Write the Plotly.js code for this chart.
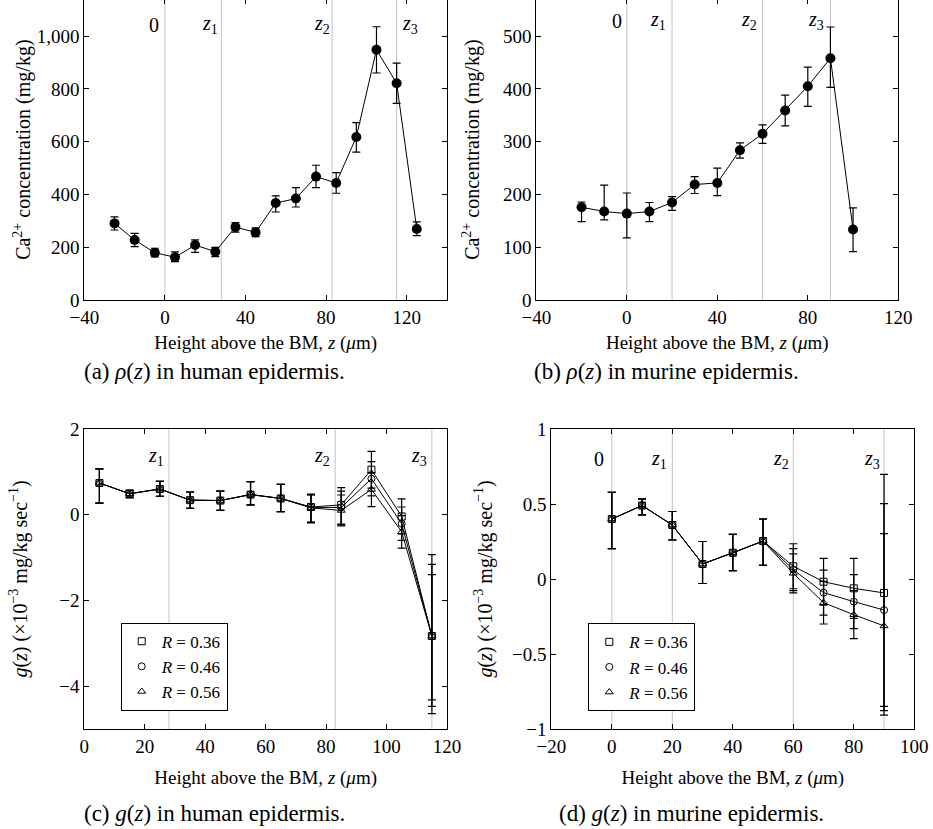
<!DOCTYPE html>
<html><head><meta charset="utf-8">
<script src="https://cdn.plot.ly/plotly-3.0.1.min.js"></script>
<style>
html,body{margin:0;padding:0;overflow:hidden;background:#fff}
#chart{position:absolute;left:0;top:-5px;width:933px;height:834px}
</style>
</head><body><div id="chart"></div>
<script>
// ---- data ----
const humanZ = [-25,-15,-5,5,15,25,35,45,55,65,75,85,95,105,115,125];
const humanRho = [291,228,180,163,209,184,277,257,368,385,468,444,618,948,821,270];
const humanRhoErrPlus = [25,25,17,20,20,16,17,17,27,41,43,39,54,87,76,27];
const humanRhoErrMinus = [25,25,16,17,28,19,19,16,34,32,42,39,57,88,76,25];

const murineZ = [-20,-10,0,10,20,30,40,50,60,70,80,90,100];
const murineRho = [176,168,164,168,185,219,222,284,315,359,405,458,134];
const murineRhoErrPlus = [10,50,39,17,11,15,28,14,17,29,36,59,41];
const murineRhoErrMinus = [27,16,46,19,15,17,24,15,18,29,38,55,42];

const humanMarks = [0,28,83,115];
const murineMarks = [0,20,60,90];
const markLabels = ['0','<i>z</i><sub>1</sub>','<i>z</i><sub>2</sub>','<i>z</i><sub>3</sub>'];

const gHumanZ = [5,15,25,35,45,55,65,75,85,95,105,115];
const gHumanR036 = [0.74,0.49,0.60,0.34,0.33,0.47,0.38,0.18,0.23,1.05,-0.04,-2.83];
const gHumanR046 = [0.74,0.49,0.60,0.34,0.33,0.47,0.38,0.17,0.17,0.84,-0.21,-2.83];
const gHumanR056 = [0.74,0.49,0.60,0.34,0.33,0.47,0.38,0.16,0.10,0.59,-0.40,-2.83];
const gHumanR036ErrPlus = [0.33,0.08,0.18,0.19,0.22,0.30,0.33,0.30,0.40,0.43,0.41,1.90];
const gHumanR036ErrMinus = [0.47,0.09,0.17,0.19,0.23,0.24,0.31,0.35,0.45,0.43,0.41,1.81];
const gHumanR046ErrPlus = [0.33,0.08,0.18,0.19,0.22,0.30,0.33,0.30,0.38,0.40,0.39,1.67];
const gHumanR046ErrMinus = [0.47,0.09,0.17,0.19,0.23,0.24,0.31,0.35,0.40,0.40,0.39,1.64];
const gHumanR056ErrPlus = [0.33,0.08,0.18,0.19,0.22,0.30,0.33,0.30,0.36,0.39,0.38,1.43];
const gHumanR056ErrMinus = [0.47,0.09,0.17,0.19,0.23,0.24,0.31,0.35,0.36,0.40,0.38,1.49];

const gMurineZ = [0,10,20,30,40,50,60,70,80,90];
const gMurineR036 = [0.40,0.49,0.36,0.10,0.175,0.253,0.085,-0.018,-0.062,-0.093];
const gMurineR046 = [0.40,0.49,0.36,0.10,0.175,0.253,0.062,-0.091,-0.151,-0.207];
const gMurineR056 = [0.40,0.49,0.36,0.10,0.175,0.253,0.038,-0.158,-0.238,-0.313];
const gMurineR036ErrPlus = [0.177,0.044,0.09,0.15,0.122,0.147,0.15,0.156,0.20,0.79];
const gMurineR036ErrMinus = [0.198,0.062,0.10,0.13,0.12,0.162,0.15,0.156,0.20,0.756];
const gMurineR046ErrPlus = [0.177,0.044,0.09,0.15,0.122,0.147,0.14,0.15,0.18,0.709];
const gMurineR046ErrMinus = [0.198,0.062,0.10,0.13,0.12,0.162,0.14,0.15,0.18,0.67];
const gMurineR056ErrPlus = [0.177,0.044,0.09,0.15,0.122,0.147,0.13,0.142,0.16,0.615];
const gMurineR056ErrMinus = [0.198,0.062,0.10,0.13,0.12,0.162,0.13,0.142,0.16,0.594];

const seriesNames = ['<i>R</i> = 0.36','<i>R</i> = 0.46','<i>R</i> = 0.56'];
const seriesSymbols = ['square-open','circle-open','triangle-up-open'];

// ---- layout helpers ----
const W = 933, H = 834, S = 5;
const px = x => x / W;
const py = y => 1 - (y + S) / H;
const FONT = 'Liberation Serif, serif';

function rhoTrace(x, y, ep, em, xa, ya) {
  return {x, y, xaxis: xa, yaxis: ya, mode: 'lines+markers', showlegend: false,
    line: {color: 'black', width: 1},
    marker: {color: 'black', size: 10},
    error_y: {type: 'data', symmetric: false, array: ep, arrayminus: em, color: 'black', thickness: 1.2, width: 4}};
}
function gTraces(x, ys, eps, ems, xa, ya, leg) {
  const out = [];
  ys.forEach((y, i) => {
    out.push({x, y, xaxis: xa, yaxis: ya, mode: 'lines', showlegend: false, hoverinfo: 'skip',
      line: {color: 'black', width: 1}});
  });
  ys.forEach((y, i) => {
    out.push({x, y, xaxis: xa, yaxis: ya, mode: 'markers', name: seriesNames[i], legend: leg,
      marker: {symbol: seriesSymbols[i], size: 7, color: 'black', line: {color: 'black', width: 1}},
      error_y: {type: 'data', symmetric: false, array: eps[i], arrayminus: ems[i], color: 'black', thickness: 1.2, width: 4}});
  });
  return out;
}

const data = [
  rhoTrace(humanZ, humanRho, humanRhoErrPlus, humanRhoErrMinus, 'x', 'y'),
  rhoTrace(murineZ, murineRho, murineRhoErrPlus, murineRhoErrMinus, 'x2', 'y2'),
  ...gTraces(gHumanZ, [gHumanR036, gHumanR046, gHumanR056],
    [gHumanR036ErrPlus, gHumanR046ErrPlus, gHumanR056ErrPlus],
    [gHumanR036ErrMinus, gHumanR046ErrMinus, gHumanR056ErrMinus], 'x3', 'y3', 'legend2'),
  ...gTraces(gMurineZ, [gMurineR036, gMurineR046, gMurineR056],
    [gMurineR036ErrPlus, gMurineR046ErrPlus, gMurineR056ErrPlus],
    [gMurineR036ErrMinus, gMurineR046ErrMinus, gMurineR056ErrMinus], 'x4', 'y4', 'legend3')
];

const axBase = {showline: true, mirror: 'ticks', linecolor: 'black', linewidth: 1,
  ticks: 'inside', ticklen: 5, tickcolor: 'black', tickwidth: 1,
  showgrid: false, zeroline: false, tickfont: {family: FONT, size: 19, color: 'black'}};
const xTitleTop = {text: 'Height above the BM, <i>z</i> (<i>μ</i>m)', font: {family: FONT, size: 19, color: 'black'}, standoff: 8};
const xTitleBot = {...xTitleTop, standoff: 14};
const rhoTitle = {text: 'Ca<sup>2+</sup> concentration (mg/kg)', font: {family: FONT, size: 20, color: 'black'}, standoff: 0};
const gTitle = {text: '<i>g</i>(<i>z</i>) (×10<sup>−3</sup> mg/kg sec<sup>−1</sup>)', font: {family: FONT, size: 20, color: 'black'}, standoff: 26};

const topDomY = [py(300.3), py(-1)];
const botDomY = [py(729), py(429)];

const layout = {
  width: W, height: H, margin: {l: 0, r: 0, t: 0, b: 0},
  paper_bgcolor: 'white', plot_bgcolor: 'white',
  font: {family: FONT, color: 'black'},
  showlegend: true,
  xaxis: {...axBase, domain: [px(84.3), px(447)], range: [-40, 140], dtick: 40, tick0: 0, anchor: 'y', title: xTitleTop},
  yaxis: {...axBase, domain: topDomY, range: [0, 1140], dtick: 200, tick0: 0, tickformat: ',d', anchor: 'x', title: rhoTitle},
  xaxis2: {...axBase, domain: [px(536.3), px(898.3)], range: [-40, 120], dtick: 40, tick0: 0, anchor: 'y2', title: xTitleTop},
  yaxis2: {...axBase, domain: topDomY, range: [0, 570], dtick: 100, tick0: 0, anchor: 'x2', title: {...rhoTitle, standoff: 17}},
  xaxis3: {...axBase, domain: [px(84.3), px(447)], range: [0, 120], dtick: 20, tick0: 0, anchor: 'y3', title: xTitleBot},
  yaxis3: {...axBase, domain: botDomY, range: [-5, 2], dtick: 2, tick0: 0, anchor: 'x3', title: gTitle},
  xaxis4: {...axBase, domain: [px(551.3), px(914.3)], range: [-20, 100], dtick: 20, tick0: 0, anchor: 'y4', title: xTitleBot},
  yaxis4: {...axBase, domain: botDomY, range: [-1, 1], dtick: 0.5, tick0: 0, anchor: 'x4', title: {...gTitle, standoff: 14}},
  legend2: {x: px(120.7), y: py(622.7), xanchor: 'left', yanchor: 'top', bgcolor: 'white',
    bordercolor: 'black', borderwidth: 1, font: {family: FONT, size: 17, color: 'black'}, itemwidth: 30, tracegroupgap: 0},
  legend3: {x: px(588.3), y: py(623.3), xanchor: 'left', yanchor: 'top', bgcolor: 'white',
    bordercolor: 'black', borderwidth: 1, font: {family: FONT, size: 17, color: 'black'}, itemwidth: 30, tracegroupgap: 0},
  shapes: [],
  annotations: []
};

function addMarks(marks, labels, xa, ya, labelY, shifts) {
  marks.forEach((z, i) => {
    layout.shapes.push({type: 'line', xref: xa, yref: ya + ' domain', x0: z, x1: z, y0: 0, y1: 1,
      line: {color: '#c4c4c4', width: 1}, layer: 'below'});
    layout.annotations.push({xref: xa, yref: ya + ' domain', x: z, y: labelY, text: labels[i],
      showarrow: false, xanchor: 'center', yanchor: 'middle', xshift: shifts[i],
      font: {family: FONT, size: 20, color: 'black'}});
  });
}
addMarks(humanMarks, markLabels, 'x', 'y', 0.915, [-11, -11, -10, 13]);
addMarks(murineMarks, markLabels, 'x2', 'y2', 0.927, [-10, -14, -14, -14]);
addMarks(humanMarks.slice(1), markLabels.slice(1), 'x3', 'y3', 0.9077, [-13, -13, -13]);
addMarks(murineMarks, markLabels, 'x4', 'y4', 0.90, [-13, -13, -12, -12]);

const captions = [
  ['(a) <i>ρ</i>(<i>z</i>) in human epidermis.', 82, 371],
  ['(b) <i>ρ</i>(<i>z</i>) in murine epidermis.', 532, 371],
  ['(c) <i>g</i>(<i>z</i>) in human epidermis.', 82, 813],
  ['(d) <i>g</i>(<i>z</i>) in murine epidermis.', 557, 813]
];
captions.forEach(c => layout.annotations.push({xref: 'paper', yref: 'paper', x: px(c[1]), y: py(c[2]),
  text: c[0], showarrow: false, xanchor: 'left', yanchor: 'middle',
  font: {family: FONT, size: 23, color: 'black'}}));

Plotly.newPlot('chart', data, layout, {displayModeBar: false, staticPlot: true});
</script>
</body></html>
